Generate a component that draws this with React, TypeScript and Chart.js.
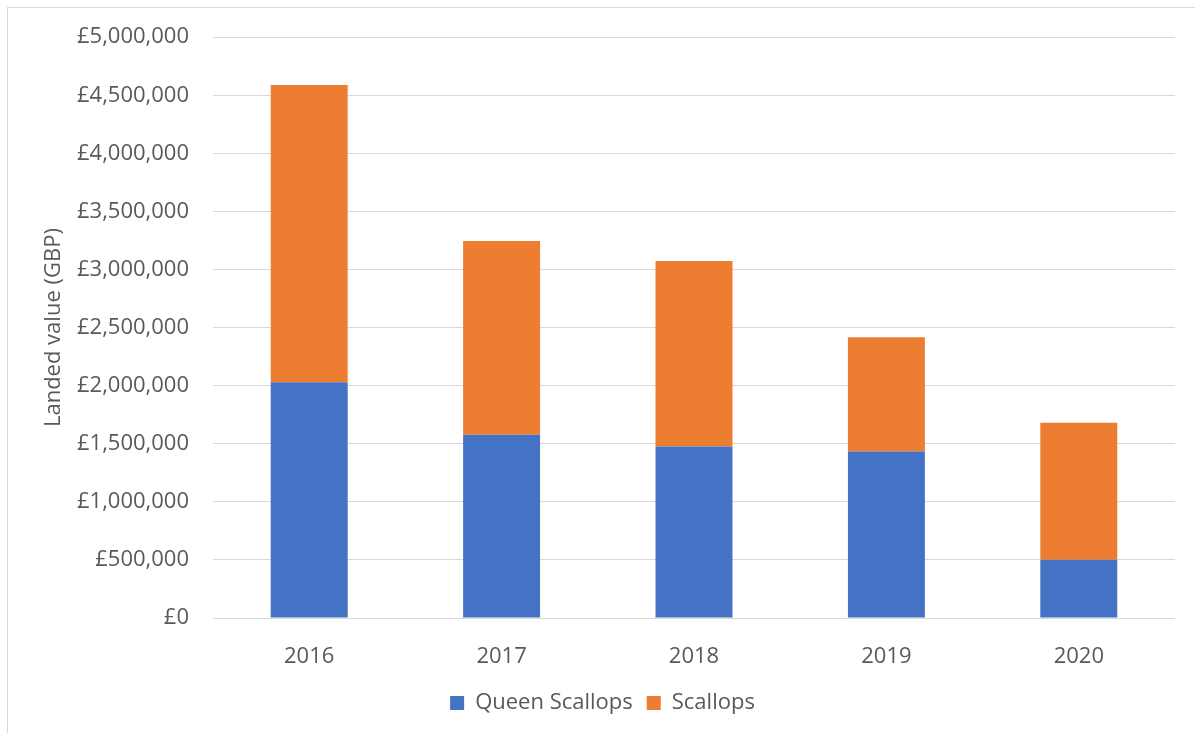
import React, { useEffect, useRef } from "react";
import { Chart, registerables } from "chart.js";

Chart.register(...registerables);

const years: string[] = ["2016", "2017", "2018", "2019", "2020"];
const queenScallops: number[] = [2029000, 1577000, 1476000, 1433000, 502000];
const scallops: number[] = [2560000, 1669000, 1597000, 983000, 1178000];
const seriesNames: string[] = ["Queen Scallops", "Scallops"];
const yTitle = "Landed value (GBP)";

const FONT = "'Open Sans', 'Noto Sans', sans-serif";
const TEXT = "#595959";
const GRID = "#d9d9d9";

export default function App() {
  const ref = useRef<HTMLCanvasElement | null>(null);

  useEffect(() => {
    if (!ref.current) return;
    const chart = new Chart(ref.current, {
      type: "bar",
      data: {
        labels: years,
        datasets: [
          {
            label: seriesNames[0],
            data: queenScallops,
            backgroundColor: "#4472C4",
            barPercentage: 0.4,
            categoryPercentage: 1,
          },
          {
            label: seriesNames[1],
            data: scallops,
            backgroundColor: "#ED7D31",
            barPercentage: 0.4,
            categoryPercentage: 1,
          },
        ],
      },
      options: {
        responsive: false,
        animation: false,
        layout: { padding: { left: 30, right: 20, top: 31, bottom: 9 } },
        plugins: {
          tooltip: { enabled: false },
          legend: {
            position: "bottom",
            labels: {
              color: TEXT,
              font: { family: FONT, size: 22 },
              boxWidth: 14,
              boxHeight: 14,
              padding: 14,
            },
          },
        },
        scales: {
          x: {
            stacked: true,
            grid: { display: false },
            border: { display: false },
            ticks: {
              color: TEXT,
              font: { family: FONT, size: 22 },
              padding: 18,
            },
            afterFit: (s: any) => {
              s.height = 60;
            },
          },
          y: {
            stacked: true,
            min: 0,
            max: 5000000,
            grid: { color: GRID, lineWidth: 1, drawTicks: false },
            border: { display: false },
            ticks: {
              stepSize: 500000,
              color: TEXT,
              font: { family: FONT, size: 22 },
              padding: 24,
              callback: (v: any) => "£" + Number(v).toLocaleString("en-GB"),
            },
            title: {
              display: true,
              text: yTitle,
              color: TEXT,
              font: { family: FONT, size: 22 },
              padding: { top: 11, bottom: 0 },
            },
            afterFit: (s: any) => {
              s.width = 183;
            },
          },
        },
      },
    });
    return () => chart.destroy();
  }, []);

  return (
    <div style={{ position: "absolute", left: 0, top: 0, width: 1195, height: 733, background: "#fff" }}>
      <div
        style={{
          position: "absolute",
          left: 7,
          top: 7,
          width: 1188,
          height: 726,
          borderLeft: "1px solid #d9d9d9",
          borderTop: "1px solid #d9d9d9",
        }}
      />
      <canvas ref={ref} width={1195} height={733} style={{ position: "absolute", left: 0, top: 0 }} />
    </div>
  );
}
